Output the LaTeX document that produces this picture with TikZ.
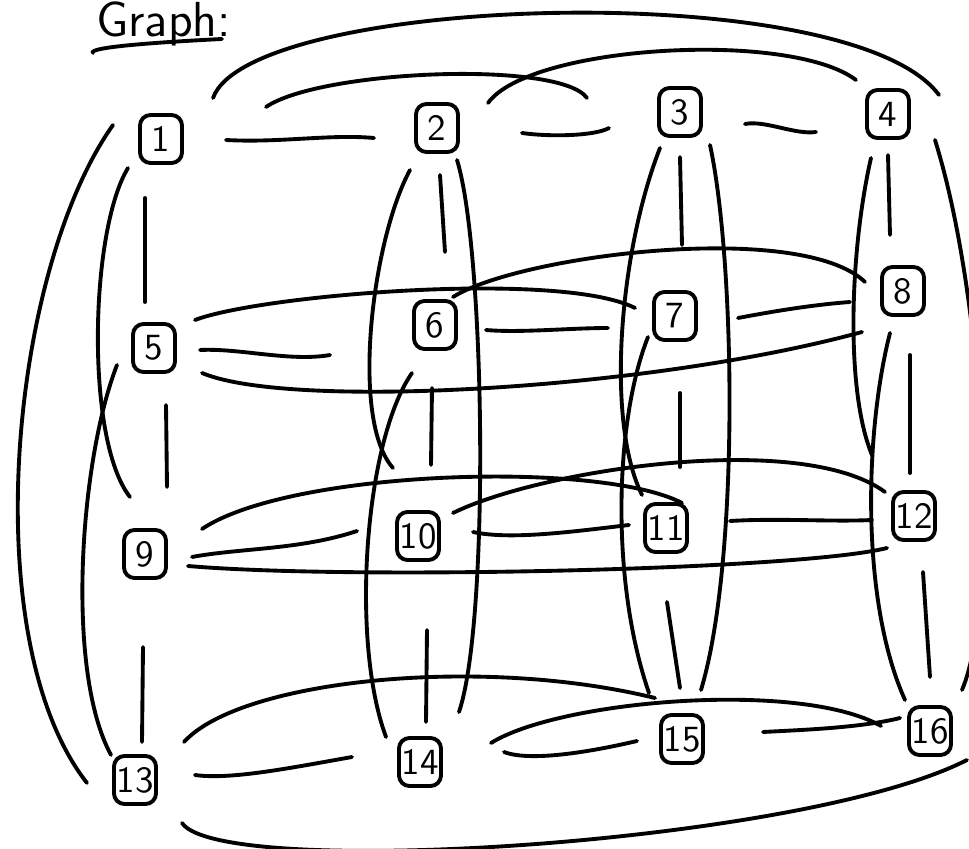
\documentclass[tikz,border=0pt]{standalone}
\usepackage{tikz}
\usetikzlibrary{calc}

\begin{document}
\begin{tikzpicture}[
      x=0.01cm, y=-0.01cm,
      font=\sffamily,
      vtx/.style={draw, line width=1.1pt, rounded corners=3pt, minimum width=4.2mm,
                  minimum height=4.8mm, inner sep=0pt, font=\sffamily\fontsize{10.5}{12}\selectfont},
      link/.style={line width=1.1pt, line cap=round}]
  \useasboundingbox (0,0) rectangle (969,849);
  \clip (0,0) rectangle (969,849);

  \node[anchor=base west, font=\sffamily\fontsize{14}{16}\selectfont] (title) at (84,37) {Graph:};
  \draw[link] ($(title.base west)+(9,16)$) .. controls +(-6,-6) and +(-60,3) .. ($(title.base west)+(138,2)$);

  \node[vtx] (v1)  at (161,139) {1};
  \node[vtx] (v2)  at (437,128) {2};
  \node[vtx] (v3)  at (680,112) {3};
  \node[vtx] (v4)  at (888,114) {4};
  \node[vtx] (v5)  at (154,348) {5};
  \node[vtx] (v6)  at (435,325) {6};
  \node[vtx] (v7)  at (675,316) {7};
  \node[vtx] (v8)  at (903,291) {8};
  \node[vtx] (v9)  at (145,554) {9};
  \node[vtx] (v10) at (418,536) {10};
  \node[vtx] (v11) at (666,528) {11};
  \node[vtx] (v12) at (914,516) {12};
  \node[vtx] (v13) at (135,780) {13};
  \node[vtx] (v14) at (420,762) {14};
  \node[vtx] (v15) at (682,739) {15};
  \node[vtx] (v16) at (930,731) {16};

  % rows
  \draw[link] ($(v1)+(65,1)$) .. controls (280,143) and (330,134) .. ($(v2)+(-63,10)$);
  \draw[link] ($(v2)+(85,5)$) .. controls (550,137) and (595,136) .. ($(v3)+(-71,16)$);
  \draw[link] ($(v3)+(65,12)$) .. controls (765,120) and (795,135) .. ($(v4)+(-72,18)$);
  \draw[link] ($(v1)+(105,-32)$) .. controls (320,70) and (560,60) .. ($(v3)+(-93,-14)$);
  \draw[link] ($(v2)+(51,-25)$) .. controls (530,45) and (790,30) .. ($(v4)+(-32,-34)$);
  \draw[link] ($(v1)+(52,-41)$) .. controls (250,-5) and (850,-25) .. ($(v4)+(51,-19)$);

  \draw[link] ($(v5)+(46,2)$) .. controls (240,348) and (290,362) .. ($(v6)+(-105,30)$);
  \draw[link] ($(v6)+(51,5)$) .. controls (520,333) and (570,328) .. ($(v7)+(-67,12)$);
  \draw[link] ($(v7)+(63,2)$) .. controls (770,312) and (810,305) .. ($(v8)+(-53,11)$);
  \draw[link] ($(v5)+(41,-28)$) .. controls (260,295) and (560,270) .. ($(v7)+(-40,-8)$);
  \draw[link] ($(v6)+(18,-28)$) .. controls (520,255) and (800,220) .. ($(v8)+(-38,-9)$);
  \draw[link] ($(v5)+(48,25)$) .. controls (290,410) and (650,390) .. ($(v8)+(-41,41)$);

  \draw[link] ($(v9)+(47,3)$) .. controls (240,548) and (300,550) .. ($(v10)+(-61,-5)$);
  \draw[link] ($(v10)+(55,-4)$) .. controls (510,540) and (570,532) .. ($(v11)+(-37,-3)$);
  \draw[link] ($(v11)+(64,-7)$) .. controls (780,518) and (830,522) .. ($(v12)+(-42,4)$);
  \draw[link] ($(v9)+(57,-25)$) .. controls (290,470) and (600,460) .. ($(v11)+(16,-25)$);
  \draw[link] ($(v10)+(35,-23)$) .. controls (540,470) and (800,430) .. ($(v12)+(-29,-24)$);
  \draw[link] ($(v9)+(43,12)$) .. controls (350,580) and (800,570) .. ($(v12)+(-27,32)$);

  \draw[link] ($(v13)+(60,-5)$) .. controls (230,780) and (290,768) .. ($(v14)+(-68,-5)$);
  \draw[link] ($(v14)+(84,-10)$) .. controls (530,762) and (590,752) .. ($(v15)+(-45,2)$);
  \draw[link] ($(v15)+(81,-7)$) .. controls (800,730) and (860,728) .. ($(v16)+(-30,-13)$);
  \draw[link] ($(v13)+(49,-38)$) .. controls (240,680) and (480,655) .. ($(v15)+(-27,-41)$);
  \draw[link] ($(v14)+(71,-19)$) .. controls (560,700) and (800,680) .. ($(v16)+(-49,-5)$);
  \draw[link] ($(v13)+(47,43)$) .. controls (220,880) and (800,845) .. ($(v16)+(37,29)$);

  % columns
  \draw[link] ($(v1)+(-16,59)$) -- ($(v5)+(-9,-46)$);
  \draw[link] ($(v5)+(12,57)$) -- ($(v9)+(22,-67)$);
  \draw[link] ($(v9)+(-2,93)$) -- ($(v13)+(7,-38)$);
  \draw[link] ($(v1)+(-33,29)$) .. controls (90,230) and (85,440) .. ($(v9)+(-15,-57)$);
  \draw[link] ($(v5)+(-37,17)$) .. controls (80,460) and (65,670) .. ($(v13)+(-24,-25)$);
  \draw[link] ($(v1)+(-48,-14)$) .. controls (10,270) and (-25,640) .. ($(v13)+(-48,3)$);

  \draw[link] ($(v2)+(3,47)$) -- ($(v6)+(10,-73)$);
  \draw[link] ($(v6)+(-3,63)$) -- ($(v10)+(13,-71)$);
  \draw[link] ($(v10)+(9,94)$) -- ($(v14)+(6,-40)$);
  \draw[link] ($(v2)+(-27,42)$) .. controls (372,240) and (350,420) .. ($(v10)+(-25,-68)$);
  \draw[link] ($(v6)+(-23,48)$) .. controls (365,440) and (350,640) .. ($(v14)+(-34,-25)$);
  \draw[link] ($(v2)+(20,32)$) .. controls (485,250) and (490,620) .. ($(v14)+(39,-50)$);

  \draw[link] ($(v3)+(0,45)$) -- ($(v7)+(7,-71)$);
  \draw[link] ($(v7)+(5,77)$) -- ($(v11)+(14,-61)$);
  \draw[link] ($(v11)+(1,74)$) -- ($(v15)+(-2,-51)$);
  \draw[link] ($(v3)+(-20,36)$) .. controls (620,250) and (605,420) .. ($(v11)+(-24,-33)$);
  \draw[link] ($(v7)+(-27,21)$) .. controls (615,420) and (610,580) .. ($(v15)+(-33,-46)$);
  \draw[link] ($(v3)+(30,33)$) .. controls (735,260) and (740,560) .. ($(v15)+(19,-49)$);

  \draw[link] ($(v4)+(0,41)$) -- ($(v8)+(-13,-56)$);
  \draw[link] ($(v8)+(7,64)$) -- ($(v12)+(-4,-43)$);
  \draw[link] ($(v12)+(9,56)$) -- ($(v16)+(0,-54)$);
  \draw[link] ($(v4)+(-17,44)$) .. controls (850,250) and (845,390) .. ($(v12)+(-42,-61)$);
  \draw[link] ($(v8)+(-13,42)$) .. controls (865,430) and (860,600) .. ($(v16)+(-25,-31)$);
  \draw[link] ($(v4)+(47,26)$) .. controls (985,300) and (1000,600) .. ($(v16)+(32,-41)$);
\end{tikzpicture}
\end{document}
